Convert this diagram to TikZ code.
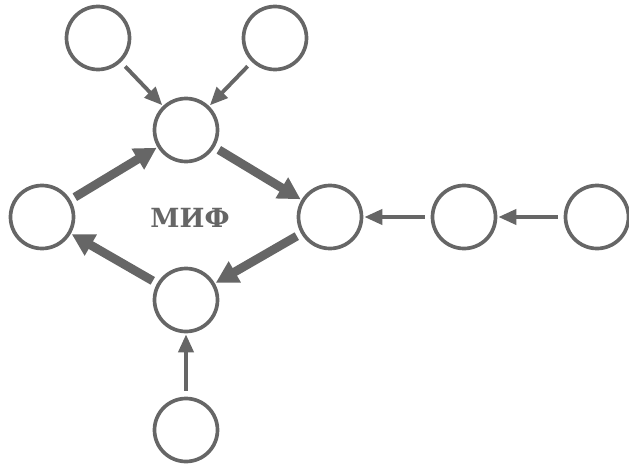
\documentclass[tikz,border=0pt]{standalone}
\usepackage{fontspec}
\usepackage{tikz}
\usetikzlibrary{
  arrows.meta,
  positioning,
}
\newfontfamily\mythfont{DejaVu Serif}
\definecolor{mythgray}{HTML}{666666}

\begin{document}
\begin{tikzpicture}[
    circ/.style={circle, draw=mythgray, line width=2.1pt, minimum size=1.26cm, inner sep=0pt},
    feed/.style={-{Triangle[length=0.36cm, width=0.3cm]}, mythgray, line width=2.2pt,
                 shorten <=0.12cm, shorten >=0.02cm},
    cyc/.style={-{Triangle[length=0.44cm, width=0.46cm]}, mythgray, line width=5pt,
                shorten <=0.1cm, shorten >=0.02cm},
  ]
  \useasboundingbox (0,0) rectangle (12.58,9.34);
  % the cycle
  \node[circ] (ctop)   at (3.72, 6.74) {};
  \node[circ] (cright) at (6.60, 5.00) {};
  \node[circ] (cbot)   at (3.72, 3.34) {};
  \node[circ] (cleft)  at (0.84, 5.00) {};
  \node[text=mythgray, font=\mythfont\bfseries\fontsize{15}{17}\selectfont] (myth) at (3.80, 4.98) {МИФ};
  % outer circles
  \node[circ] (intl)  at (1.96, 8.58) {};
  \node[circ] (intr)  at (5.50, 8.58) {};
  \node[circ] (inr)   at (9.28, 5.00) {};
  \node[circ] (infar) at (11.94, 5.00) {};
  \node[circ] (inbot) at (3.72, 0.74) {};
  % thick arrows
  \draw[cyc] (cleft)  -- (ctop);
  \draw[cyc] (ctop)   -- (cright);
  \draw[cyc] (cright) -- (cbot);
  \draw[cyc] (cbot)   -- (cleft);
  % thin arrows
  \draw[feed] (intl)  -- (ctop);
  \draw[feed] (intr)  -- (ctop);
  \draw[feed] (inr)   -- (cright);
  \draw[feed] (infar) -- (inr);
  \draw[feed] (inbot) -- (cbot);
\end{tikzpicture}
\end{document}
